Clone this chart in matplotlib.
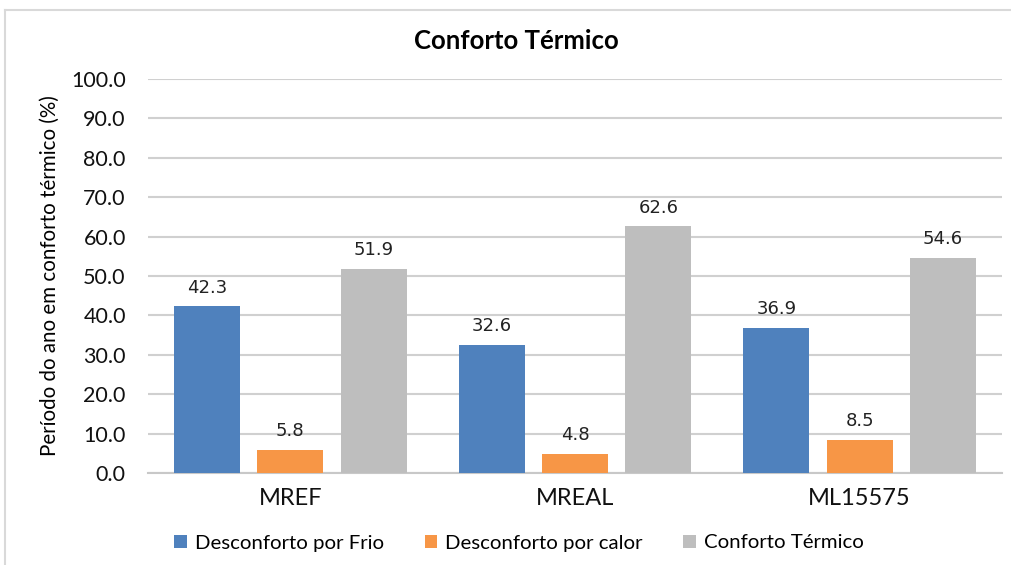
import matplotlib
matplotlib.use("Agg")
import numpy as np
from matplotlib import pyplot as plt
from matplotlib.lines import Line2D

categories = ["MREF", "MREAL", "ML15575"]
series_names = ["Desconforto por Frio", "Desconforto por calor", "Conforto Térmico"]
frio = [42.3, 32.6, 36.9]
calor = [5.8, 4.8, 8.5]
conforto = [51.9, 62.6, 54.6]
y_ticks = [0, 10, 20, 30, 40, 50, 60, 70, 80, 90, 100]

colors = ["#4F81BD", "#F79646", "#BEBEBE"]
label_font = "Lato"

fig = plt.figure(figsize=(10.12, 5.65), dpi=100)
# chart frame: only its left and top edges fall inside the picture
fx, fy = 5.5 / 1012, 1 - 9.5 / 565
fig.add_artist(Line2D([fx, fx], [0, fy], transform=fig.transFigure,
                      color="#D9D9D9", linewidth=1.5))
fig.add_artist(Line2D([fx, 1], [fy, fy], transform=fig.transFigure,
                      color="#D9D9D9", linewidth=1.5))
ax = fig.add_axes([148 / 1012, 1 - 473 / 565, 854 / 1012, 394 / 565])

x = np.arange(len(categories))
step = 0.293
width = 0.232
for i, (vals, name) in enumerate(zip([frio, calor, conforto], series_names)):
    bars = ax.bar(x + (i - 1) * step, vals, width, color=colors[i], label=name, zorder=3)
    for b, v in zip(bars, vals):
        ax.annotate(f"{v:.1f}", (b.get_x() + b.get_width() / 2, v),
                    xytext=(0, 7), textcoords="offset points",
                    ha="center", va="bottom", fontsize=13, color="#222222")

ax.set_xlim(-0.5, 2.5)
ax.set_ylim(0, 100)
ax.set_yticks(y_ticks)
ax.set_yticklabels([f"{t:.1f}" for t in y_ticks], fontsize=15.5, family=label_font)
ax.set_xticks(x)
ax.set_xticklabels(categories, fontsize=17, family=label_font)
ax.tick_params(axis="both", length=0, colors="#111111")
ax.tick_params(axis="y", pad=16)
ax.tick_params(axis="x", pad=11)
ax.grid(axis="y", color="#D0D0D0", linewidth=1.5, zorder=0)
for s in ["top", "right", "left"]:
    ax.spines[s].set_visible(False)
ax.spines["bottom"].set_color("#C8C8C8")
ax.spines["bottom"].set_linewidth(1.5)

ax.set_ylabel("Período do ano em conforto térmico (%)", fontsize=14.8,
              family=label_font, labelpad=8)
fig.text(516 / 1012, 1 - 41 / 565, "Conforto Térmico", ha="center", va="center",
         fontsize=18.5, fontweight="bold", family=label_font)

fig.legend(loc="center", bbox_to_anchor=(519 / 1012, 1 - 543 / 565), ncol=3,
           frameon=False, prop={"family": label_font, "size": 14.7},
           handlelength=0.6, handleheight=0.6, handletextpad=0.4, columnspacing=2.0)

fig.savefig("out.png", dpi=100)
